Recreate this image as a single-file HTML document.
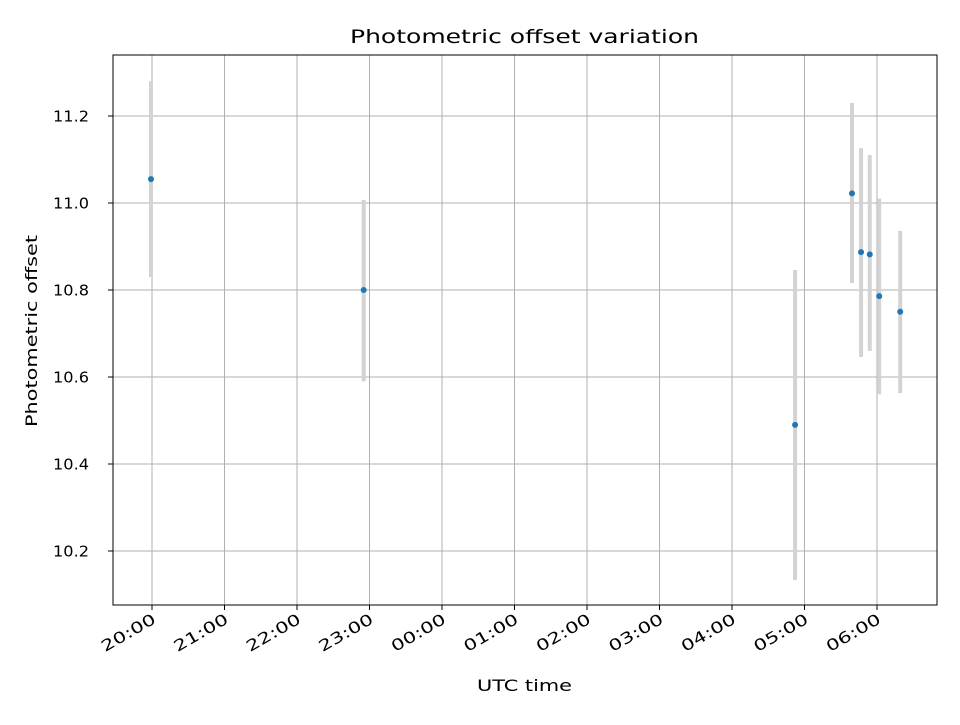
<!DOCTYPE html>
<html><head><meta charset="utf-8"><style>
body{margin:0;background:#fff;}
svg{font-family:"DejaVu Sans","Liberation Sans",sans-serif;}
</style></head><body>
<svg id="chart" width="960" height="720" xmlns="http://www.w3.org/2000/svg"></svg>
<script>
const timeHours = [-0.014, 2.92, 8.87, 9.655, 9.78, 9.90, 10.03, 10.32];
const offsets = [11.055, 10.80, 10.49, 11.022, 10.887, 10.882, 10.786, 10.75];
const upper = [11.28, 11.007, 10.846, 11.23, 11.126, 11.11, 11.01, 10.936];
const lower = [10.83, 10.59, 10.133, 10.816, 10.646, 10.66, 10.56, 10.563];
const xTickLabels = ["20:00","21:00","22:00","23:00","00:00","01:00","02:00","03:00","04:00","05:00","06:00"];
const yTicks = [10.2, 10.4, 10.6, 10.8, 11.0, 11.2];

const L=113,R=937,T=55,B=605;
const xs = h => 152 + h*72.5;
const ys = v => 290 - (v-10.8)*435;
const svg=document.getElementById('chart');
const NS='http://www.w3.org/2000/svg';
function mk(tag,attrs,parent){const e=document.createElementNS(NS,tag);for(const k in attrs)e.setAttribute(k,attrs[k]);(parent||svg).appendChild(e);return e;}

const grid=mk('g',{});


xTickLabels.forEach((lab,i)=>{
  const x=xs(i);
  mk('line',{x1:x,x2:x,y1:T,y2:B,stroke:'#b0b0b0','stroke-width':1},grid);
  mk('line',{x1:x,x2:x,y1:B,y2:B+5,stroke:'#000','stroke-width':1});
  const ax=x+2, ay=B+18;
  const t=mk('text',{x:ax,y:ay,'font-size':15.5,'text-anchor':'end',textLength:60,lengthAdjust:'spacingAndGlyphs',transform:`rotate(-30 ${ax} ${ay-6})`});
  t.textContent=lab;
  
  
});
yTicks.forEach(v=>{
  const y=ys(v);
  mk('line',{x1:L,x2:R,y1:y,y2:y,stroke:'#b0b0b0','stroke-width':1},grid);
  mk('line',{x1:L-5,x2:L,y1:y,y2:y,stroke:'#000','stroke-width':1});
  const t=mk('text',{x:89,y:y+5.5,'font-size':15.5,'text-anchor':'end',textLength:36,lengthAdjust:'spacingAndGlyphs'});
  t.textContent=v.toFixed(1);
  
  
});
const series=mk('g',{});


timeHours.forEach((h,i)=>{
  const x=xs(h);
  const eb=mk('line',{x1:x,x2:x,y1:ys(upper[i]),y2:ys(lower[i]),stroke:'#d3d3d3','stroke-width':4},series);
  
  
});
timeHours.forEach((h,i)=>{
  const p=mk('circle',{cx:xs(h),cy:ys(offsets[i]),r:3,fill:'#1f77b4'},series);
  
  
});
const fr=mk('rect',{x:L,y:T,width:R-L,height:B-T,fill:'none',stroke:'#000','stroke-width':1});


const title=mk('text',{x:524.5,y:43,'font-size':19,'text-anchor':'middle',textLength:349,lengthAdjust:'spacingAndGlyphs'});
title.textContent='Photometric offset variation';


const xt=mk('text',{x:524.5,y:691,'font-size':16,'text-anchor':'middle',textLength:95,lengthAdjust:'spacingAndGlyphs'});
xt.textContent='UTC time';


const yt=mk('text',{x:37,y:331,'font-size':16,'text-anchor':'middle',textLength:192,lengthAdjust:'spacingAndGlyphs',transform:`rotate(-90 37 331)`});
yt.textContent='Photometric offset';


</script>
</body></html>
